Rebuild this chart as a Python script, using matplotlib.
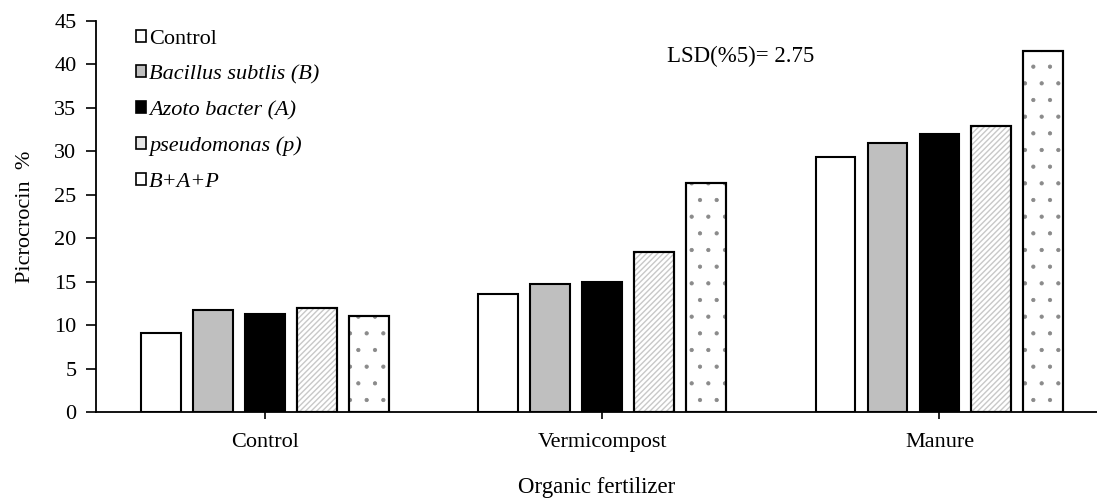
import matplotlib
matplotlib.use("Agg")
import matplotlib.pyplot as plt
import numpy as np
from matplotlib.patches import Patch

plt.rcParams['font.family'] = ['Liberation Serif', 'DejaVu Serif']
plt.rcParams['hatch.linewidth'] = 1.0

categories = ["Control", "Vermicompost", "Manure"]
series_names = ["Control", "Bacillus subtlis (B)", "Azoto bacter (A)", "pseudomonas (p)", "B+A+P"]
control_vals = [9.1, 11.7, 11.3, 12.0, 11.1]
vermicompost_vals = [13.6, 14.7, 15.0, 18.4, 26.4]
manure_vals = [29.3, 31.0, 32.0, 32.9, 41.6]
yticks = [0, 5, 10, 15, 20, 25, 30, 35, 40, 45]
lsd_text = "LSD(%5)= 2.75"

data = np.array([control_vals, vermicompost_vals, manure_vals])

facecolors = ["white", "#bfbfbf", "black", "white", "white"]
hatches = [None, None, None, "//////", "."]
hatchcolors = ["black", "black", "black", "#c8c8c8", "#8a8a8a"]
hatchlw = [1.0, 1.0, 1.0, 1.0, 0.6]
italic = [False, True, True, True, True]

fig = plt.figure(figsize=(10.97, 4.99), dpi=100)
ax = fig.add_axes([96/1097, 1-412/499, 1-96/1097, (412-21)/499])

x = np.arange(len(categories))
step = 0.154
width = 0.118
for i in range(len(series_names)):
    offs = (i - 2) * step
    bars = ax.bar(x + offs, data[:, i], width=width, facecolor=facecolors[i],
                  edgecolor="black", linewidth=1.5, zorder=2)
    if hatches[i]:
        for b in bars:
            b.set_hatch(hatches[i])
            b._hatch_color = matplotlib.colors.to_rgba(hatchcolors[i])
            try:
                b.set_hatch_linewidth(hatchlw[i])
            except Exception:
                pass
        ax.bar(x + offs, data[:, i], width=width, facecolor="none",
               edgecolor="black", linewidth=1.5, zorder=3)

ax.set_xlim(-0.5, 2.467)
ax.set_ylim(0, 45)
ax.set_yticks(yticks)
ax.set_xticks(x)
ax.set_xticklabels(categories, fontsize=16)
ax.tick_params(axis='y', labelsize=16, length=7, width=1.2, direction='out', pad=7)
ax.tick_params(axis='x', length=5, width=1.2, direction='out', pad=10)
for s in ["top", "right"]:
    ax.spines[s].set_visible(False)
ax.spines["left"].set_linewidth(1.3)
ax.spines["bottom"].set_linewidth(1.3)

ax.set_ylabel("Picrocrocin  %", fontsize=16, labelpad=14)
ax.set_xlabel("Organic fertilizer", fontsize=16.5, labelpad=18)

fig.text(741/1097, 1-56/499, lsd_text, fontsize=16.5, ha="center", va="center")

handles = []
for i in range(len(series_names)):
    fc = "#e6e6e6" if i == 3 else facecolors[i]
    p = Patch(facecolor=fc, edgecolor="black", linewidth=1.2)
    handles.append(p)
leg = ax.legend(handles, series_names, loc="upper left", bbox_to_anchor=(0.027, 1.012),
                frameon=False, fontsize=16, handlelength=0.45, handleheight=0.45,
                handletextpad=0.12, labelspacing=0.74, borderaxespad=0.2)
for t, it in zip(leg.get_texts(), italic):
    if it:
        t.set_style("italic")

fig.savefig("out.png", dpi=100)
